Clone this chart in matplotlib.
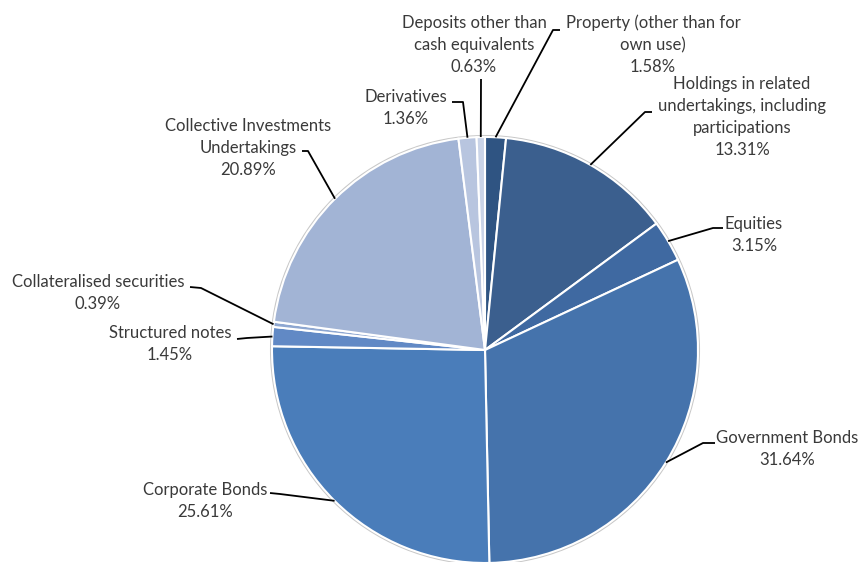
import matplotlib
matplotlib.use("Agg")
import matplotlib.pyplot as plt
import numpy as np

plt.rcParams['font.family'] = ['Lato', 'DejaVu Sans']

# slices, clockwise from 12 o'clock
labels = ['Property (other than for\nown use)',
          'Holdings in related\nundertakings, including\nparticipations',
          'Equities',
          'Government Bonds',
          'Corporate Bonds',
          'Structured notes',
          'Collateralised securities',
          'Collective Investments\nUndertakings',
          'Derivatives',
          'Deposits other than\ncash equivalents']
values = [1.58, 13.31, 3.15, 31.64, 25.61, 1.45, 0.39, 20.89, 1.36, 0.63]
colors = ['#2f5482', '#3b5f8e', '#3f69a1', '#4573ac', '#4a7dba',
          '#6189c5', '#8ea7d1', '#a2b4d5', '#b8c5df', '#cad4e8']

# label layout in pixel coords (text centre, text-side end of leader, elbow)
text_pos = [(653, 45), (742, 117), (754, 235), (787, 449), (205, 501),
            (170, 344), (98, 293), (248, 148), (406, 108), (474, 45)]
leader_a = [(560, 30), (652, 112), (723, 228), (715, 443), (270, 493),
            (237, 339), (190, 287), (302, 151), (452, 102), (481, 79)]
leader_b = [(553, 30), (645, 112), (713, 228), (703, 443), (280, 494),
            (247, 338), (201, 288), (308, 151), (463, 102), (481, 80)]

W, H = 864, 562
cx, cy, r = 485, 350, 213


def py(y):
    return H - y


fig = plt.figure(figsize=(W / 100, H / 100), dpi=100)
ax = fig.add_axes([0, 0, 1, 1])

# faint outer rim
ax.add_patch(plt.Circle((cx, py(cy)), r + 1.2, facecolor='none',
                        edgecolor='#c8c8c8', lw=1.2, zorder=1))

wedges, _ = ax.pie(values, colors=colors, startangle=90, counterclock=False,
                   center=(cx, py(cy)), radius=r, frame=True,
                   wedgeprops=dict(edgecolor='white', linewidth=1.5))
for w in wedges:
    w.set_zorder(2)
ax.set_xlim(0, W)
ax.set_ylim(0, H)
ax.set_aspect('equal')
ax.axis('off')

total = sum(values)
cum = 0.0
for i, v in enumerate(values):
    mid = cum + v / 2
    cum += v
    ang = np.deg2rad(90 - 360 * mid / total)
    ex = cx + r * np.cos(ang)
    ey = py(cy) + r * np.sin(ang)
    xa, ya = leader_a[i]
    xb, yb = leader_b[i]
    ax.plot([xa, xb, ex], [py(ya), py(yb), ey], color='black', lw=1.3,
            zorder=3, solid_capstyle='butt')
    tx, ty = text_pos[i]
    ax.text(tx, py(ty), f'{labels[i]}\n{v:.2f}%', ha='center', va='center',
            fontsize=12, color='#3a3a3a', linespacing=1.45, zorder=4)

fig.savefig('out.png', dpi=100, facecolor='white')
